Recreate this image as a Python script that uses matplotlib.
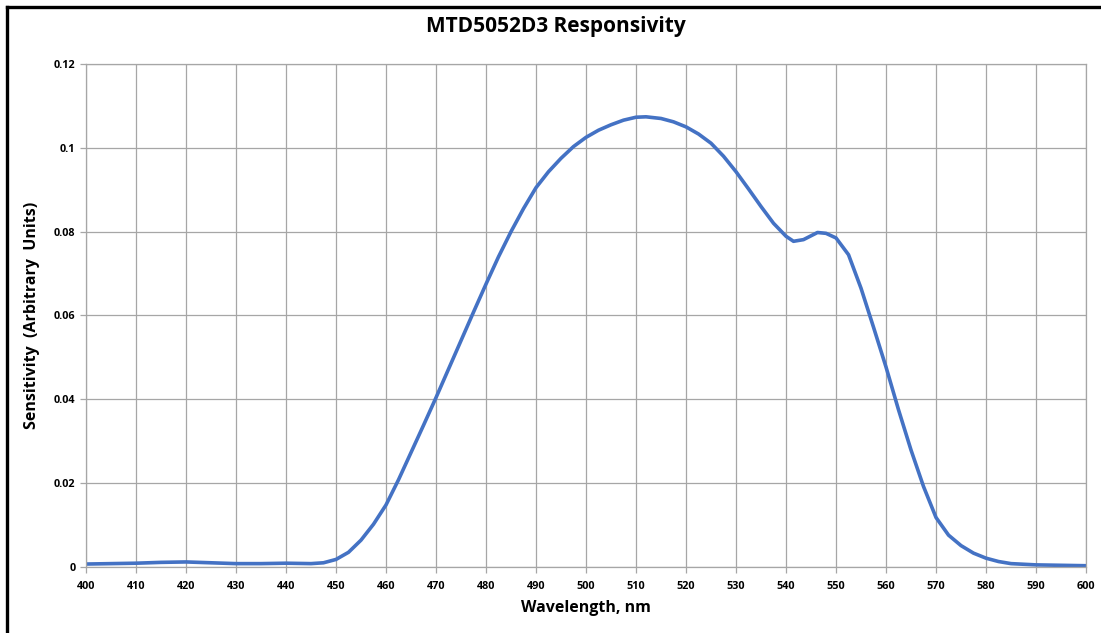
import matplotlib.pyplot as plt
from matplotlib.lines import Line2D

# wavelength (nm) and sensitivity
wavelength = [400, 405, 410, 415, 420, 425, 430, 435, 440, 445, 447.5,
              450, 452.5, 455, 457.5, 460, 462.5, 465, 467.5, 470, 472.5,
              475, 477.5, 480, 482.5, 485, 487.5, 490, 492.5, 495, 497.5,
              500, 502.5, 505, 507.5, 510, 512, 515, 517.5, 520, 522.5,
              525, 527.5, 530, 532.5, 535, 537.5, 540, 541.5, 543.5, 546.3,
              548, 550, 552.5, 555, 557.5, 560, 562.5, 565, 567.5, 570,
              572.5, 575, 577.5, 580, 582.5, 585, 590, 595, 600]
sensitivity = [0.0007, 0.0008, 0.0009, 0.0011, 0.0012, 0.0010, 0.0008, 0.0008,
               0.0009, 0.0008, 0.0010, 0.0018, 0.0035, 0.0064, 0.0102, 0.0148,
               0.0208, 0.0273, 0.0338, 0.0404, 0.0472, 0.0540, 0.0608, 0.0675,
               0.0740, 0.0800, 0.0855, 0.0905, 0.0943, 0.0975, 0.1003, 0.1025,
               0.1042, 0.1055, 0.1066, 0.1073, 0.1074, 0.1070, 0.1062, 0.1050,
               0.1033, 0.1011, 0.0980, 0.0943, 0.0902, 0.0860, 0.0820, 0.0789,
               0.0777, 0.0781, 0.0798, 0.0796, 0.0785, 0.0745, 0.0665, 0.0572,
               0.0477, 0.0375, 0.0279, 0.0192, 0.0118, 0.0076, 0.0051, 0.0033,
               0.0021, 0.0013, 0.0008, 0.0005, 0.0004, 0.0003]

x_ticks = list(range(400, 601, 10))
y_ticks = [0, 0.02, 0.04, 0.06, 0.08, 0.1, 0.12]
y_labels = ["0", "0.02", "0.04", "0.06", "0.08", "0.1", "0.12"]

plt.rcParams['font.family'] = ['Open Sans', 'DejaVu Sans']

fig = plt.figure(figsize=(11.01, 6.33), dpi=100)
ax = fig.add_axes([0.0781, 0.1043, 0.9083, 0.7946])

ax.plot(wavelength, sensitivity, color="#4472C4", lw=2.6,
        solid_capstyle="round", solid_joinstyle="round")

ax.set_xlim(400, 600)
ax.set_ylim(0, 0.12)
ax.set_xticks(x_ticks)
ax.set_yticks(y_ticks)
ax.set_yticklabels(y_labels)
ax.grid(True, color="#a6a6a6", lw=0.9)
ax.set_axisbelow(True)
for s in ax.spines.values():
    s.set_color("#a6a6a6")
    s.set_linewidth(0.9)
ax.tick_params(colors="#a6a6a6", length=4, width=0.9, labelcolor="black",
               labelsize=7.8)
for lab in ax.get_xticklabels() + ax.get_yticklabels():
    lab.set_fontweight("bold")
ax.tick_params(axis="x", pad=6)

ax.set_xlabel("Wavelength, nm", fontsize=11.5, fontweight="bold", labelpad=6)
ax.set_ylabel("Sensitivity  (Arbitrary  Units)", fontsize=11.5,
              fontweight="bold", labelpad=10)
fig.text(0.505, 0.958, "MTD5052D3 Responsivity", ha="center", va="center",
         fontsize=15, fontweight="bold")

# black frame along top and left edges
fig.add_artist(Line2D([0.006, 1.0], [0.9895, 0.9895], color="black", lw=2.4,
                      transform=fig.transFigure))
fig.add_artist(Line2D([0.006, 0.006], [0.0, 0.9895], color="black", lw=2.4,
                      transform=fig.transFigure))

fig.savefig("out.png", dpi=100)
plt.close(fig)
